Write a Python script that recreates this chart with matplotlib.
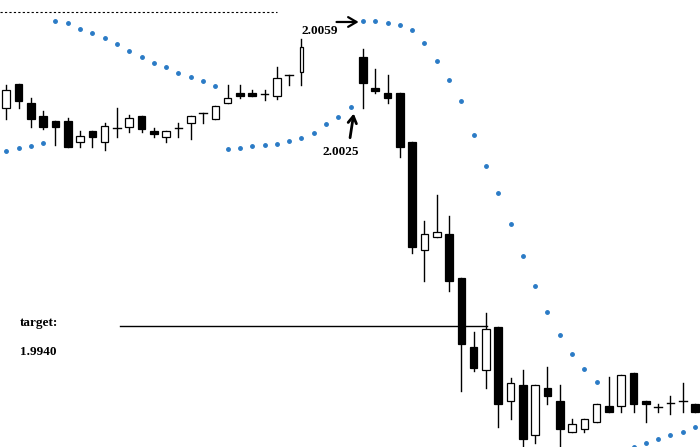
import numpy as np
import matplotlib
matplotlib.use('Agg')
import matplotlib.pyplot as plt
from matplotlib.patches import Rectangle

nan = np.nan
# OHLC of each bar (bars 25-28 are missing on the picture)
opens = [2.00303, 2.00402, 2.00324, 2.00270, 2.00249, 2.00249, 2.00162, 2.00208, 2.00162, 2.00220,
         2.00224, 2.00270, 2.00208, 2.00183, 2.00220, 2.00241, 2.00282, 2.00257, 2.00324, 2.00365,
         2.00365, 2.00361, 2.00353, 2.00440, 2.00452, nan, nan, nan, nan, 2.00514,
         2.00386, 2.00365, 2.00365, 2.00162, 1.99715, 1.99769, 1.99781, 1.99599, 1.99313, 1.99218,
         1.99396, 1.99090, 1.99156, 1.98949, 1.99144, 1.99090, 1.98961, 1.98974, 1.99003, 1.99069,
         1.99069, 1.99206, 1.99090, 1.99065, 1.99082, 1.99090, 1.99077]
closes = [2.00377, 2.00332, 2.00257, 2.00224, 2.00224, 2.00141, 2.00187, 2.00183, 2.00228, 2.00220,
          2.00262, 2.00216, 2.00195, 2.00208, 2.00220, 2.00270, 2.00282, 2.00311, 2.00344, 2.00353,
          2.00353, 2.00361, 2.00427, 2.00440, 2.00555, nan, nan, nan, nan, 2.00406,
          2.00373, 2.00344, 2.00141, 1.99727, 1.99781, 1.99790, 1.99587, 1.99326, 1.99226, 1.99388,
          1.99077, 1.99164, 1.98933, 1.99156, 1.99111, 1.98974, 1.98995, 1.99015, 1.99077, 1.99044,
          1.99198, 1.99077, 1.99077, 1.99065, 1.99082, 1.99090, 1.99044]
highs = [2.00398, 2.00402, 2.00344, 2.00290, 2.00249, 2.00262, 2.00208, 2.00208, 2.00241, 2.00303,
         2.00274, 2.00270, 2.00220, 2.00208, 2.00241, 2.00270, 2.00282, 2.00311, 2.00398, 2.00398,
         2.00377, 2.00377, 2.00473, 2.00440, 2.00589, nan, nan, nan, nan, 2.00547,
         2.00464, 2.00440, 2.00365, 2.00162, 1.99835, 1.99943, 1.99856, 1.99599, 1.99376, 1.99454,
         1.99396, 1.99185, 1.99218, 1.99156, 1.99231, 1.99156, 1.99015, 1.99015, 1.99077, 1.99189,
         1.99198, 1.99206, 1.99090, 1.99077, 1.99111, 1.99164, 1.99077]
lows = [2.00257, 2.00303, 2.00224, 2.00216, 2.00150, 2.00141, 2.00141, 2.00141, 2.00129, 2.00183,
        2.00204, 2.00204, 2.00183, 2.00162, 2.00183, 2.00175, 2.00241, 2.00257, 2.00324, 2.00344,
        2.00353, 2.00336, 2.00340, 2.00398, 2.00398, nan, nan, nan, nan, 2.00303,
        2.00365, 2.00324, 2.00100, 1.99703, 1.99587, 1.99769, 1.99545, 1.99131, 1.99214, 1.99144,
        1.98982, 1.99015, 1.98880, 1.98916, 1.99077, 1.98880, 1.98961, 1.98961, 1.99003, 1.99044,
        1.99044, 1.99044, 1.99003, 1.99044, 1.99036, 1.99044, 1.99044]
# parabolic SAR
sar = [2.00125, 2.00137, 2.00146, 2.00158, 2.00663, 2.00655, 2.00630, 2.00613, 2.00593, 2.00568,
       2.00539, 2.00514, 2.00489, 2.00473, 2.00448, 2.00431, 2.00415, 2.00394, 2.00133, 2.00137,
       2.00146, 2.00150, 2.00154, 2.00166, 2.00179, 2.00199, 2.00237, 2.00266, 2.00307, 2.00663,
       2.00663, 2.00655, 2.00647, 2.00626, 2.00572, 2.00498, 2.00419, 2.00332, 2.00191, 2.00063,
       1.99951, 1.99823, 1.99690, 1.99566, 1.99458, 1.99363, 1.99284, 1.99222, 1.99169, nan,
       nan, 1.98899, 1.98916, 1.98933, 1.98949, 1.98961, 1.98982]

resistance = 2.0070
target = 1.9940

fig = plt.figure(figsize=(7, 4.47), dpi=100)
ax = fig.add_axes([0, 0, 1, 1])
ax.set_xlim(-0.51, 56.4)
ax.set_ylim(1.9890, 2.0075)
ax.axis('off')

w = 0.62
for i in range(len(opens)):
    o, c, h, l = opens[i], closes[i], highs[i], lows[i]
    if np.isnan(o):
        continue
    bw = 0.3 if i == 24 else w  # the thin bar before the gap
    ax.plot([i, i], [l, h], color='black', lw=1, zorder=2)
    if abs(o - c) < 1e-6:
        ax.plot([i - bw / 2, i + bw / 2], [o, o], color='black', lw=1, zorder=3)
    elif c > o:
        ax.add_patch(Rectangle((i - bw / 2, o), bw, c - o, facecolor='white',
                               edgecolor='black', lw=0.9, zorder=3))
    else:
        ax.add_patch(Rectangle((i - bw / 2, c), bw, o - c, facecolor='black',
                               edgecolor='black', lw=0.9, zorder=3))

ax.plot(np.arange(len(sar)), sar, ls='none', marker='o', ms=2.5,
        color='#2b7bc6', mec='#2b7bc6', zorder=4)

ax.plot([-0.51, 22], [resistance, resistance], color='black', lw=0.8, ls=(0, (2, 2)))
ax.plot([9.25, 39.1], [target, target], color='black', lw=1)

font = dict(family=['Liberation Serif', 'DejaVu Serif'], fontweight='bold', fontsize=9.5)
ax.text(24.0, 2.00622, '2.0059', va='center', ha='left', **font)
ax.text(25.7, 2.00121, '2.0025', va='center', ha='left', **font)
ax.text(1.1, 1.99413, 'target:', va='center', ha='left', **font)
ax.text(1.1, 1.99293, '1.9940', va='center', ha='left', **font)

ax.annotate('', xy=(28.65, 2.00659), xytext=(26.85, 2.00659),
            arrowprops=dict(arrowstyle='->,head_length=0.6,head_width=0.35', color='black',
                            lw=1.6, shrinkA=0, shrinkB=0))
ax.annotate('', xy=(28.25, 2.00280), xytext=(27.95, 2.00180),
            arrowprops=dict(arrowstyle='->,head_length=0.5,head_width=0.3', color='black',
                            lw=2, shrinkA=0, shrinkB=0))

fig.savefig('out.png', dpi=100, facecolor='white')
